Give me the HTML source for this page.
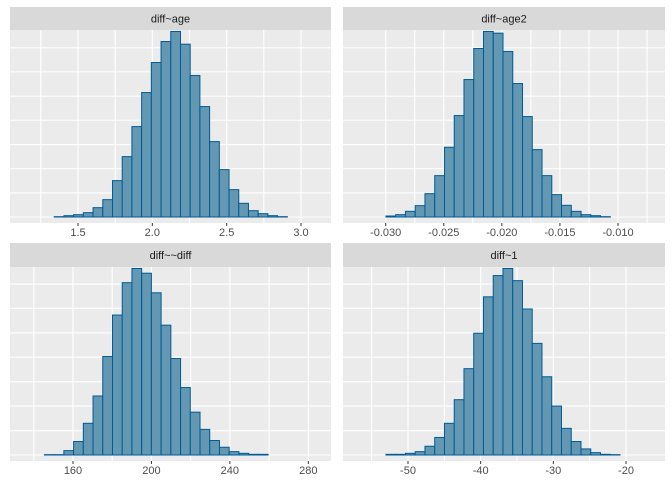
<!DOCTYPE html>
<html><head><meta charset="utf-8"><style>
html,body{margin:0;padding:0;background:#fff;}
svg{display:block;font-family:"Liberation Sans",Arial,sans-serif;}
</style></head><body>
<svg id="c" width="672" height="480"></svg>
<script>
// Panel data (bin counts, arbitrary units)
const titles = ["diff~age","diff~age2","diff~~diff","diff~1"];
const countsAge = [0,0,0,1,4,7,13,28,52,109,181,271,373,463,526,556,518,424,331,226,142,82,41,19,10,4,1,0,0,0];
const countsAge2 = [0,0,0,3,7,17,34,70,124,209,304,412,505,556,551,496,400,301,202,124,67,35,17,7,4,1,0,0,0,0];
const countsDiff = [0,0,1,1,13,40,94,175,292,415,511,553,539,481,385,286,200,127,76,43,23,10,5,2,2,0,0,0,0,0];
const countsOne = [0,0,0,2,2,5,10,26,52,94,164,256,361,469,532,553,517,433,331,232,145,79,40,18,7,2,1,0,0,0];
const xRanges = [[1.144,3.104],[-0.0325,-0.0073],[135.5,284.3],[-57.06,-16.8]];
const tickAge = [1.5,2.0,2.5,3.0];
const tickAge2 = [-0.030,-0.025,-0.020,-0.015,-0.010];
const tickDiff = [160,200,240,280];
const tickOne = [-50,-40,-30,-20];
const tickLabelsAge = ["1.5","2.0","2.5","3.0"];
const tickLabelsAge2 = ["-0.030","-0.025","-0.020","-0.015","-0.010"];
const tickLabelsDiff = ["160","200","240","280"];
const tickLabelsOne = ["-50","-40","-30","-20"];
const minorAge = [1.25,1.75,2.25,2.75];
const minorAge2 = [-0.0275,-0.0225,-0.0175,-0.0125,-0.0075];
const minorDiff = [140,180,220,260];
const minorOne = [-55,-45,-35,-25];
const yGrid = [0,72,145,217,290,362,435,507,580];

const panels = [
 {counts:countsAge,xr:xRanges[0],ticks:tickAge,labels:tickLabelsAge,minor:minorAge,
  ticksPx:[78,301],x0:10,x1:331,st:7,pt:30,pb:223},
 {counts:countsAge2,xr:xRanges[1],ticks:tickAge2,labels:tickLabelsAge2,minor:minorAge2,
  ticksPx:[385.7,618],x0:343,x1:665,st:7,pt:30,pb:223},
 {counts:countsDiff,xr:xRanges[2],ticks:tickDiff,labels:tickLabelsDiff,minor:minorDiff,
  ticksPx:[73,308.3],x0:10,x1:331,st:243,pt:267,pb:461},
 {counts:countsOne,xr:xRanges[3],ticks:tickOne,labels:tickLabelsOne,minor:minorOne,
  ticksPx:[408,626],x0:343,x1:665,st:243,pt:267,pb:461}
];
const NS="http://www.w3.org/2000/svg";
const svg=document.getElementById('c');
function mk(tag,attrs,parent){const e=document.createElementNS(NS,tag);for(const k in attrs)e.setAttribute(k,attrs[k]);(parent||svg).appendChild(e);return e;}
panels.forEach((p,i)=>{
  const g=mk('g',{});
  
  
  const t0=p.ticks[0], t1=p.ticks[p.ticks.length-1];
  const sx=v=>p.ticksPx[0]+(v-t0)*(p.ticksPx[1]-p.ticksPx[0])/(t1-t0);
  const M=Math.max(...p.counts);
  const base=p.pb-6, topY=p.pt+1.5;
  const sy=c=>base-c*(base-topY)/M;
  const bg=mk('rect',{x:p.x0,y:p.pt,width:p.x1-p.x0,height:p.pb-p.pt,fill:'#EBEBEB'},g);
  
  
  const strip=mk('rect',{x:p.x0,y:p.st,width:p.x1-p.x0,height:p.pt-p.st,fill:'#D9D9D9'},g);
  
  
  const st=mk('text',{x:(p.x0+p.x1)/2,y:(p.st+p.pt)/2+4,'text-anchor':'middle','font-size':'11',fill:'#1A1A1A'},g);
  st.textContent=titles[i];
  
  
  yGrid.forEach(v=>{const y=sy(v);if(y<p.pt||y>p.pb)return;
    const l=mk('line',{x1:p.x0,x2:p.x1,y1:y,y2:y,stroke:'#fff','stroke-width':1.1},g);
    
    });
  p.minor.concat(p.ticks).forEach(v=>{const x=sx(v);if(x<p.x0||x>p.x1)return;
    const l=mk('line',{x1:x,x2:x,y1:p.pt,y2:p.pb,stroke:'#fff','stroke-width':1.1},g);
    
    });
  const n=p.counts.length, bw=(p.xr[1]-p.xr[0])/n;
  p.counts.forEach((c,k)=>{
    const xa=sx(p.xr[0]+k*bw), xb=sx(p.xr[0]+(k+1)*bw), y=sy(c);
    const r=mk('rect',{x:xa,y:y,width:xb-xa,height:Math.max(base-y,0),fill:'#6497B1',stroke:'#005B96','stroke-width':1},g);
    
    
  });
  p.ticks.forEach((v,k)=>{const x=sx(v);
    const tm=mk('line',{x1:x,x2:x,y1:p.pb,y2:p.pb+3,stroke:'#333','stroke-width':1},g);
    
    
    const tl=mk('text',{x:x,y:p.pb+13,'text-anchor':'middle','font-size':'11',fill:'#4D4D4D'},g);
    tl.textContent=p.labels[k];
    
    });
});
</script>
</body></html>
